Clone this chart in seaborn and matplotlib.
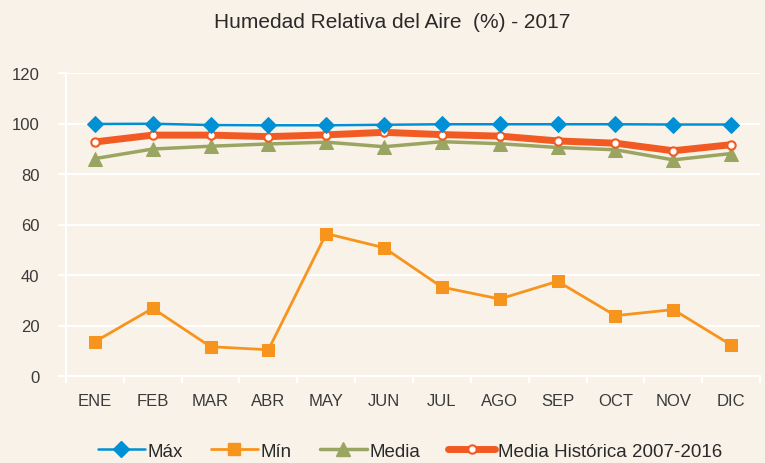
import matplotlib
matplotlib.use("Agg")
import matplotlib.pyplot as plt
import seaborn as sns
import pandas as pd
import numpy as np
from matplotlib.lines import Line2D

months = ["ENE", "FEB", "MAR", "ABR", "MAY", "JUN", "JUL", "AGO", "SEP", "OCT", "NOV", "DIC"]
maximo = [99.8, 99.9, 99.4, 99.3, 99.3, 99.5, 99.7, 99.7, 99.7, 99.7, 99.6, 99.6]
minimo = [13.6, 26.8, 11.6, 10.4, 56.4, 50.8, 35.2, 30.5, 37.5, 23.9, 26.3, 12.3]
media = [86.1, 89.9, 91.0, 91.9, 92.6, 90.8, 92.8, 92.0, 90.5, 89.6, 85.6, 88.1]
historica = [92.7, 95.4, 95.4, 94.8, 95.5, 96.5, 95.6, 95.0, 93.1, 92.2, 89.2, 91.6]
series_names = ["Máx", "Mín", "Media", "Media Histórica 2007-2016"]

bg = "#F9F2E8"
sns.set_theme(style="white")
plt.rcParams['font.family'] = ['Liberation Sans Narrow', 'DejaVu Sans Condensed', 'Liberation Sans', 'DejaVu Sans']

fig = plt.figure(figsize=(7.65, 4.64), dpi=100, facecolor=bg)
ax = fig.add_axes([66/765, 1-377/464, 694/765, 303/464])
ax.set_facecolor(bg)

x = np.arange(len(months))
df = pd.DataFrame({"x": x, "Máx": maximo, "Mín": minimo, "Media": media, "Hist": historica})

for yv in range(20, 121, 20):
    ax.axhline(yv, color="white", lw=1.5, zorder=0)

sns.lineplot(data=df, x="x", y="Máx", ax=ax, color="#0090D5", lw=1.8, marker="D",
             markersize=8, markeredgecolor="#0090D5", zorder=5)
sns.lineplot(data=df, x="x", y="Mín", ax=ax, color="#F7941D", lw=2, marker="s",
             markersize=8, markeredgecolor="#F7941D", zorder=4)
sns.lineplot(data=df, x="x", y="Media", ax=ax, color="#9BA562", lw=2.5, marker="^",
             markersize=10, markeredgecolor="#9BA562", zorder=3)
sns.lineplot(data=df, x="x", y="Hist", ax=ax, color="#F15A22", lw=5, marker="o",
             markersize=6, markerfacecolor="white", markeredgecolor="#F15A22",
             markeredgewidth=1.5, zorder=4)

ax.set_xlim(-0.5, 11.5)
ax.set_ylim(0, 120)
ax.set_yticks(range(0, 121, 20))
ax.set_xticks(x)
ax.set_xticklabels(months)
ax.set_xlabel("")
ax.set_ylabel("")
for s in ["top", "right"]:
    ax.spines[s].set_visible(False)
ax.spines["left"].set_color("white")
ax.spines["left"].set_linewidth(1.5)
ax.spines["bottom"].set_color("white")
ax.spines["bottom"].set_linewidth(1.5)
ax.set_xticks(np.arange(-0.5, 12, 1), minor=True)
ax.tick_params(axis="x", which="minor", length=5, color="white", width=1.5, bottom=True)
ax.tick_params(axis="x", which="major", length=0, labelsize=12, labelcolor="#3a3a3a", pad=12)
ax.tick_params(axis="y", length=6, color="white", width=1.5, left=True, labelsize=12,
               labelcolor="#3a3a3a", pad=13)
for lbl in ax.get_yticklabels():
    lbl.set_horizontalalignment("right")

fig.text(0.513, 1-22/464, "Humedad Relativa del Aire  (%) - 2017", ha="center", va="center",
         fontsize=15, color="#2a2a2a")

handles = [
    Line2D([], [], color="#0090D5", lw=1.8, marker="D", markersize=8),
    Line2D([], [], color="#F7941D", lw=2, marker="s", markersize=8),
    Line2D([], [], color="#9BA562", lw=2.5, marker="^", markersize=10),
    Line2D([], [], color="#F15A22", lw=5, marker="o", markersize=6, markerfacecolor="white",
           markeredgecolor="#F15A22", markeredgewidth=1.5),
]
fig.legend(handles, series_names, loc="center", bbox_to_anchor=(0.536, 1-452/464), ncol=4,
           frameon=False, fontsize=13.5, handlelength=2.5, handletextpad=0.15, columnspacing=1.5,
           labelcolor="#2a2a2a")

fig.savefig("out.png", dpi=100, facecolor=bg)
